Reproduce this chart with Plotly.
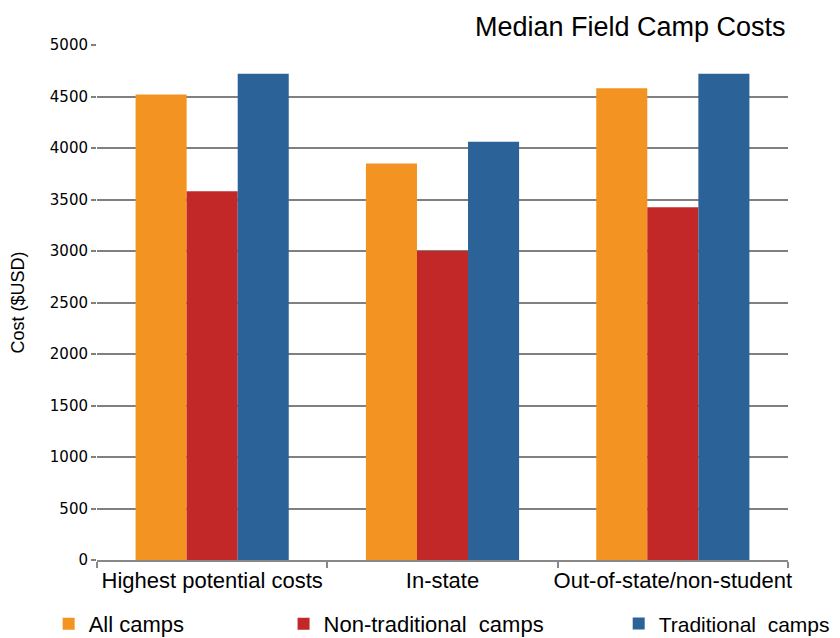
import plotly.graph_objects as go

categories = ["Highest potential costs", "In-state", "Out-of-state/non-student"]
series_names = ["All camps", "Non-traditional\u00a0 camps", "Traditional\u00a0 camps"]
all_camps = [4520, 3850, 4580]
non_traditional = [3580, 3000, 3425]
traditional = [4720, 4060, 4720]
colors = ["#F39322", "#C22828", "#2B6399"]
y_ticks = [0, 500, 1000, 1500, 2000, 2500, 3000, 3500, 4000, 4500, 5000]

FONT = "Liberation Sans, Arial, sans-serif"
TICKFONT = "DejaVu Sans, Verdana, sans-serif"

fig = go.Figure()
values = [all_camps, non_traditional, traditional]
legend_ids = ["legend", "legend2", "legend3"]
for name, vals, col, lg in zip(series_names, values, colors, legend_ids):
    fig.add_trace(go.Bar(
        x=categories, y=vals, name=name,
        marker=dict(color=col, line=dict(width=0)),
        legend=lg, showlegend=True,
    ))

def legend_at(x, size=22):
    return dict(orientation="h", yanchor="middle", y=-0.124,
                xanchor="left", x=x, font=dict(family=FONT, size=size, color="#000"),
                bgcolor="rgba(0,0,0,0)", itemwidth=30, visible=True)

# the page adds an 8px body margin, so the figure is sized to fit the window
fig.update_layout(
    width=832, height=630,
    margin=dict(l=89, r=52, t=37, b=78, autoexpand=False),
    paper_bgcolor="white", plot_bgcolor="white",
    barmode="group", bargap=0.335, bargroupgap=0,
    font=dict(family=FONT, color="#000"),
    showlegend=True,
    legend=legend_at(-0.07),
    legend2=legend_at(0.27),
    legend3=legend_at(0.755, 21),
    annotations=[dict(
        text="Median Field Camp Costs", xref="paper", yref="paper",
        x=1.0, y=1.0, xanchor="right", yanchor="bottom", yshift=1,
        showarrow=False, font=dict(family=FONT, size=27, color="#000"),
    )],
)

fig.update_xaxes(
    showgrid=False, showline=True, linecolor="#888", linewidth=2,
    ticks="outside", tickson="boundaries", ticklen=6, tickcolor="#888", tickwidth=2,
    tickangle=0,
    tickfont=dict(family=FONT, size=22, color="#000"),
)
fig.update_yaxes(
    range=[0, 5000], tickvals=y_ticks, ticktext=[str(v) for v in y_ticks],
    showgrid=True, gridcolor="#808080", gridwidth=2,
    zeroline=False, showline=False,
    ticks="outside", ticklen=5, tickcolor="#808080", tickwidth=2,
    tickfont=dict(family=TICKFONT, size=15, color="#000"),
    title=dict(text="Cost ($USD)", font=dict(family=FONT, size=18, color="#000"), standoff=22),
)

fig.write_html("out.html")
